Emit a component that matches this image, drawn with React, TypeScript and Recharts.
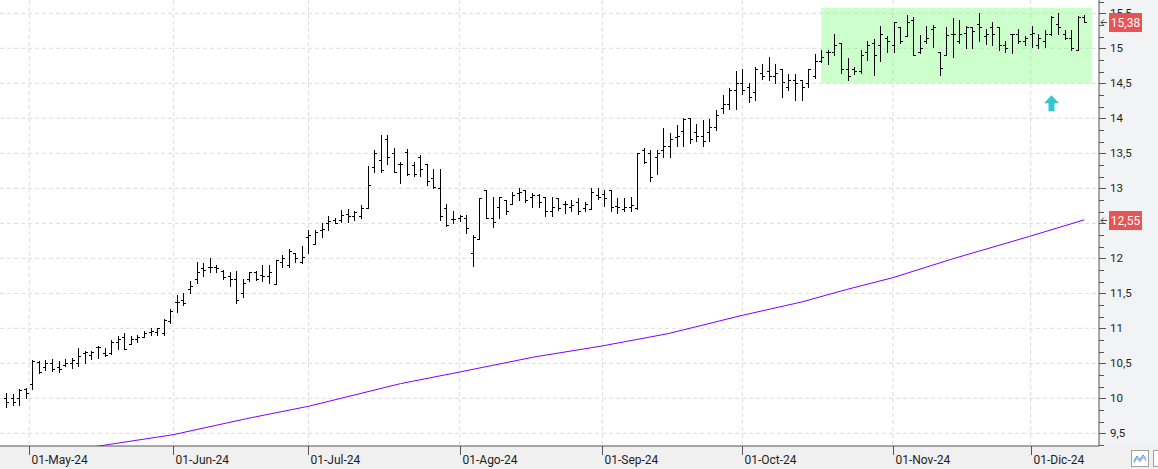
import React from 'react';
import { ComposedChart, Bar, Line, XAxis, YAxis, CartesianGrid, ReferenceArea, ReferenceDot } from 'recharts';

// OHLC per trading bar (index 0 .. 164)
const opens = [
  10.00, 10.00, 10.00, 10.13, 10.21, 10.52, 10.45, 10.50, 10.45, 10.48,
  10.50, 10.50, 10.65, 10.62, 10.73, 10.65, 10.65, 10.80, 10.87, 10.78,
  10.85, 10.88, 10.95, 10.95, 10.93, 11.10, 11.37, 11.40, 11.56, 11.70,
  11.86, 11.87, 11.88, 11.82, 11.75, 11.70, 11.50, 11.70, 11.80, 11.76,
  11.75, 11.64, 11.95, 11.90, 12.08, 11.95, 12.30, 12.20, 12.40, 12.50,
  12.55, 12.55, 12.63, 12.60, 12.60, 12.72, 13.30, 13.40, 13.70, 13.50,
  13.35, 13.52, 13.33, 13.45, 13.35, 13.15, 13.01, 12.72, 12.56, 12.57,
  12.58, 12.08, 12.27, 12.98, 12.57, 12.73, 12.83, 12.78, 12.93, 12.97,
  12.88, 12.90, 12.87, 12.68, 12.86, 12.77, 12.73, 12.80, 12.72, 12.71,
  12.90, 12.92, 12.97, 12.75, 12.70, 12.73, 12.72, 13.55, 13.50, 13.45,
  13.55, 13.60, 13.73, 13.82, 14.00, 13.80, 13.75, 13.80, 13.87, 14.15,
  14.20, 14.40, 14.50, 14.45, 14.37, 14.65, 14.67, 14.60, 14.70, 14.45,
  14.55, 14.55, 14.50, 14.60, 14.82, 14.95, 14.95, 15.07, 14.70, 14.70,
  14.68, 14.95, 15.08, 15.05, 15.15, 15.05, 15.31, 15.18, 15.40, 14.95,
  15.10, 15.28, 14.95, 14.90, 15.20, 15.10, 15.22, 15.30, 15.35, 15.18,
  15.30, 15.30, 15.05, 15.20, 15.20, 15.10, 15.20, 15.05, 15.10, 15.20,
  15.35, 15.20, 15.15, 14.98, 15.45,
];
const highs = [
  10.08, 10.06, 10.14, 10.15, 10.55, 10.53, 10.55, 10.56, 10.53, 10.56,
  10.58, 10.72, 10.68, 10.68, 10.75, 10.72, 10.84, 10.89, 10.94, 10.89,
  10.91, 10.96, 11.01, 11.01, 11.13, 11.27, 11.48, 11.50, 11.67, 11.95,
  11.93, 12.01, 11.90, 11.84, 11.81, 11.82, 11.71, 11.81, 11.82, 11.90,
  11.90, 11.98, 12.05, 12.14, 12.08, 12.18, 12.40, 12.40, 12.50, 12.60,
  12.57, 12.69, 12.70, 12.67, 12.76, 13.32, 13.55, 13.76, 13.76, 13.57,
  13.37, 13.56, 13.37, 13.48, 13.35, 13.27, 13.27, 12.78, 12.68, 12.62,
  12.62, 12.33, 12.86, 12.98, 12.88, 12.88, 12.83, 12.95, 13.00, 12.98,
  12.94, 12.92, 12.87, 12.87, 12.86, 12.82, 12.84, 12.86, 12.81, 13.00,
  13.00, 12.98, 12.97, 12.86, 12.86, 12.87, 13.51, 13.57, 13.55, 13.55,
  13.86, 13.79, 13.90, 14.00, 14.00, 13.92, 13.97, 13.99, 14.12, 14.33,
  14.43, 14.68, 14.70, 14.50, 14.73, 14.78, 14.87, 14.78, 14.70, 14.64,
  14.63, 14.55, 14.71, 14.92, 14.97, 14.98, 15.21, 15.07, 14.86, 14.74,
  14.98, 15.11, 15.13, 15.32, 15.17, 15.38, 15.31, 15.48, 15.45, 15.19,
  15.32, 15.33, 14.95, 15.31, 15.43, 15.40, 15.32, 15.31, 15.51, 15.27,
  15.37, 15.30, 15.10, 15.21, 15.27, 15.17, 15.32, 15.21, 15.26, 15.46,
  15.50, 15.26, 15.26, 15.46, 15.48,
];
const lows = [
  9.87, 9.91, 9.91, 10.01, 10.13, 10.36, 10.41, 10.39, 10.37, 10.46,
  10.44, 10.46, 10.51, 10.56, 10.58, 10.60, 10.63, 10.70, 10.70, 10.77,
  10.80, 10.87, 10.91, 10.91, 10.91, 11.08, 11.24, 11.33, 11.50, 11.65,
  11.75, 11.81, 11.80, 11.70, 11.60, 11.36, 11.45, 11.67, 11.69, 11.67,
  11.65, 11.64, 11.87, 11.87, 11.95, 11.93, 12.07, 12.20, 12.31, 12.40,
  12.50, 12.52, 12.52, 12.55, 12.57, 12.72, 13.24, 13.24, 13.35, 13.24,
  13.07, 13.19, 13.17, 13.17, 13.05, 13.01, 12.55, 12.46, 12.51, 12.54,
  12.36, 11.89, 12.27, 12.57, 12.45, 12.57, 12.64, 12.78, 12.84, 12.81,
  12.74, 12.73, 12.60, 12.60, 12.69, 12.65, 12.67, 12.64, 12.67, 12.71,
  12.85, 12.75, 12.68, 12.65, 12.68, 12.68, 12.71, 13.36, 13.10, 13.21,
  13.45, 13.45, 13.60, 13.60, 13.65, 13.67, 13.60, 13.67, 13.84, 14.08,
  14.14, 14.14, 14.35, 14.24, 14.26, 14.56, 14.55, 14.51, 14.30, 14.41,
  14.26, 14.26, 14.45, 14.57, 14.81, 14.78, 14.90, 14.65, 14.55, 14.64,
  14.65, 14.84, 14.62, 14.82, 14.95, 14.95, 15.07, 15.18, 14.90, 14.93,
  15.07, 15.02, 14.62, 14.90, 14.88, 15.08, 15.01, 15.01, 15.10, 15.06,
  15.05, 14.97, 14.95, 14.93, 15.07, 15.05, 15.02, 15.00, 15.02, 15.19,
  15.21, 15.13, 14.97, 14.98, 15.37,
];
const closes = [
  9.95, 9.95, 10.12, 10.07, 10.53, 10.37, 10.50, 10.42, 10.42, 10.50,
  10.55, 10.60, 10.66, 10.66, 10.74, 10.62, 10.80, 10.85, 10.70, 10.85,
  10.87, 10.94, 10.96, 11.00, 11.12, 11.25, 11.38, 11.36, 11.60, 11.81,
  11.83, 11.88, 11.86, 11.74, 11.70, 11.40, 11.65, 11.80, 11.70, 11.75,
  11.80, 11.97, 12.00, 12.10, 12.00, 12.02, 12.33, 12.37, 12.42, 12.54,
  12.50, 12.62, 12.60, 12.66, 12.72, 13.05, 13.50, 13.26, 13.45, 13.24,
  13.35, 13.20, 13.20, 13.28, 13.10, 13.02, 12.60, 12.48, 12.56, 12.60,
  12.43, 12.30, 12.86, 12.57, 12.52, 12.88, 12.67, 12.90, 12.95, 12.83,
  12.90, 12.80, 12.67, 12.73, 12.72, 12.77, 12.76, 12.68, 12.77, 12.95,
  12.88, 12.86, 12.73, 12.73, 12.73, 12.76, 13.50, 13.37, 13.16, 13.50,
  13.60, 13.70, 13.75, 13.99, 13.70, 13.75, 13.68, 13.87, 14.05, 14.20,
  14.40, 14.50, 14.40, 14.30, 14.70, 14.60, 14.60, 14.65, 14.52, 14.55,
  14.50, 14.45, 14.70, 14.82, 14.88, 14.95, 15.05, 14.70, 14.60, 14.68,
  14.90, 15.05, 14.90, 15.20, 15.10, 15.37, 15.10, 15.38, 14.90, 15.00,
  15.15, 15.30, 14.72, 15.19, 15.20, 15.20, 15.30, 15.25, 15.31, 15.20,
  15.20, 15.05, 15.00, 15.20, 15.10, 15.15, 15.22, 15.15, 15.20, 15.45,
  15.30, 15.15, 15.00, 15.45, 15.38,
];

// Moving average read at points along the purple line (bar index, value)
const maIdx = [13.5, 25.4, 36.6, 46, 60, 69, 80.3, 90.6, 100.7, 112, 121, 127.8, 134.9, 144.1, 155.7, 164];
const maVals = [9.31, 9.48, 9.71, 9.886, 10.21, 10.376, 10.59, 10.747, 10.924, 11.186, 11.376, 11.553, 11.724, 11.996, 12.314, 12.55];

// Month ticks (bar-index position) and labels
const monthTickIdx = [3.54, 25.45, 46, 69, 90.7, 112, 134.9, 155.85];
const monthLabels = ['01-May-24', '01-Jun-24', '01-Jul-24', '01-Ago-24', '01-Sep-24', '01-Oct-24', '01-Nov-24', '01-Dic-24'];

// Price axis ticks
const majorTicks = [9.5, 10, 10.5, 11, 11.5, 12, 12.5, 13, 13.5, 14, 14.5, 15, 15.5];
const minorTicks = [9.3333, ...majorTicks.slice(0, -1).flatMap((t) => [t + 1 / 6, t + 2 / 6]), 15.6667];

// Last values shown as tags on the price axis
const lastClose = 15.38;
const lastMa = 12.55;
const tagValues = [lastMa, lastClose];
const yTicks = [...[...majorTicks, ...minorTicks].sort((a, b) => a - b), ...tagValues];

const boxX = [124, 165.2];
const boxY = [14.5, 15.58];
const arrowPoint = { x: 159, y: 14.33 };

const barData = opens.map((o, i) => ({
  x: i,
  open: o,
  high: highs[i],
  low: lows[i],
  close: closes[i],
  range: [lows[i], highs[i]],
}));
const maData = maIdx.map((x, i) => ({ x, ma: maVals[i] }));

const W = 1158;
const H = 469;
const AXIS_W = 59;
const XAXIS_H = 23;
const PLOT_R = W - AXIS_W;
const PLOT_B = H - XAXIS_H;
const FONT = 'Roboto, "Noto Sans", Arial, sans-serif';

const fmt = (v: number) => String(Math.round(v * 100) / 100).replace('.', ',');

const OhlcShape = (props: any) => {
  const { x, y, width, height, payload } = props;
  if (!payload) return null;
  const cx = Math.round(x + width / 2) + 0.5;
  const yTop = Math.min(y, y + height);
  const yBot = Math.max(y, y + height);
  const span = payload.high - payload.low;
  const py = (v: number) => (span > 0 ? yTop + ((payload.high - v) / span) * (yBot - yTop) : yTop);
  const yo = Math.round(py(payload.open)) + 0.5;
  const yc = Math.round(py(payload.close)) + 0.5;
  return (
    <g stroke="#000" strokeWidth={1} shapeRendering="crispEdges">
      <line x1={cx} x2={cx} y1={Math.round(yTop)} y2={Math.round(yBot) + 1} />
      <line x1={cx - 2.5} x2={cx} y1={yo} y2={yo} />
      <line x1={cx} x2={cx + 2.5} y1={yc} y2={yc} />
    </g>
  );
};

const YTick = (props: any) => {
  const { y, payload } = props;
  const v = payload.value;
  const x0 = PLOT_R;
  if (tagValues.indexOf(v) >= 0) {
    const yy = Math.round(y) + 0.5;
    return (
      <g>
        <path
          d={`M${x0 + 2},${yy} L${x0 + 8},${yy} M${x0 + 2},${yy} L${x0 + 5},${yy - 3} M${x0 + 2},${yy} L${x0 + 5},${yy + 3}`}
          stroke="#444"
          strokeWidth={1}
          fill="none"
        />
        <rect x={x0 + 10} y={Math.round(y) - 9} width={33} height={19} fill="#e85454" />
        <text x={x0 + 26.5} y={y + 1} dy="0.36em" textAnchor="middle" fontSize={12} fill="#fff" fontFamily={FONT}>
          {fmt(v)}
        </text>
      </g>
    );
  }
  const isMajor = Math.abs(v * 2 - Math.round(v * 2)) < 1e-6;
  const yy = Math.round(y) + 0.5;
  return (
    <g>
      <line x1={x0} x2={x0 + (isMajor ? 7 : 5)} y1={yy} y2={yy} stroke="#555" />
      {isMajor && (
        <text x={x0 + 11} y={y} dy="0.36em" fontSize={11.5} fill="#1e1e1e" fontFamily={FONT}>
          {fmt(v)}
        </text>
      )}
    </g>
  );
};

const XTick = (props: any) => {
  const { x, payload } = props;
  const xx = Math.round(x) + 0.5;
  const idx = monthTickIdx.indexOf(payload.value);
  const y0 = PLOT_B;
  return (
    <g>
      <line x1={xx} x2={xx} y1={y0} y2={y0 + 9} stroke="#555" />
      <text x={xx + 2} y={y0 + 18} fontSize={12} fill="#1e1e1e" fontFamily={FONT}>
        {monthLabels[idx]}
      </text>
    </g>
  );
};

const ArrowShape = (props: any) => {
  const { cx, cy } = props;
  if (cx == null) return null;
  const c = Math.round(cx) + 0.5;
  return (
    <path
      d={`M${c},${cy} L${c + 7.5},${cy + 8} L${c + 3},${cy + 8} L${c + 3},${cy + 16} L${c - 3},${cy + 16} L${c - 3},${cy + 8} L${c - 7.5},${cy + 8} Z`}
      fill="#33c6cc"
    />
  );
};

export default function App() {
  return (
    <div style={{ position: 'fixed', left: 0, top: 0, width: W, height: H, background: '#f0f0f0', overflow: 'hidden' }}>
      <div style={{ position: 'absolute', left: 0, top: 0, width: PLOT_R, height: PLOT_B, background: '#fff' }} />
      <div style={{ position: 'absolute', left: PLOT_R, top: 0, width: AXIS_W, height: PLOT_B, background: '#f2f3f5' }} />
      <svg style={{ position: 'absolute', left: 1131, top: 450 }} width={27} height={17}>
        <rect x={0.5} y={0.5} width={17} height={16} fill="#fff" stroke="#a0a0a0" />
        <polyline points="3,11 6,6 9,10 12,5 15,9" fill="none" stroke="#4a8fd0" strokeWidth={1} />
        <polyline points="3,13 6,8 9,12 12,7 15,11" fill="none" stroke="#7ab0e0" strokeWidth={1} />
        <rect x={22.5} y={0.5} width={10} height={16} fill="#fff" stroke="#a0a0a0" />
      </svg>
      <div style={{ position: 'absolute', left: 0, top: 0 }}>
        <ComposedChart width={W} height={H} data={barData} margin={{ top: 0, right: 0, bottom: 0, left: 0 }}>
          <CartesianGrid
            stroke="#dcdcdc"
            strokeDasharray="4 3"
            horizontalValues={majorTicks}
            verticalValues={monthTickIdx}
          />
          <XAxis
            dataKey="x"
            type="number"
            domain={[-0.9125, 166.24]}
            allowDataOverflow
            ticks={monthTickIdx}
            interval={0}
            height={XAXIS_H}
            tickSize={0}
            tickMargin={0}
            tickLine={false}
            axisLine={{ stroke: '#555' }}
            tick={<XTick />}
          />
          <YAxis
            orientation="right"
            type="number"
            domain={[9.319, 15.69]}
            allowDataOverflow
            ticks={yTicks}
            interval={0}
            width={AXIS_W}
            tickSize={0}
            tickMargin={0}
            tickLine={false}
            axisLine={{ stroke: '#555' }}
            tick={<YTick />}
          />
          <ReferenceArea
            x1={boxX[0]}
            x2={boxX[1]}
            y1={boxY[0]}
            y2={boxY[1]}
            fill="#80ff80"
            fillOpacity={0.4}
            stroke="none"
          />
          <Line
            data={maData}
            dataKey="ma"
            stroke="#7f00ff"
            strokeWidth={1}
            dot={false}
            activeDot={false}
            isAnimationActive={false}
          />
          <Bar dataKey="range" barSize={5} shape={<OhlcShape />} isAnimationActive={false} />
          <ReferenceDot x={arrowPoint.x} y={arrowPoint.y} r={0} shape={ArrowShape} />
        </ComposedChart>
      </div>
    </div>
  );
}
